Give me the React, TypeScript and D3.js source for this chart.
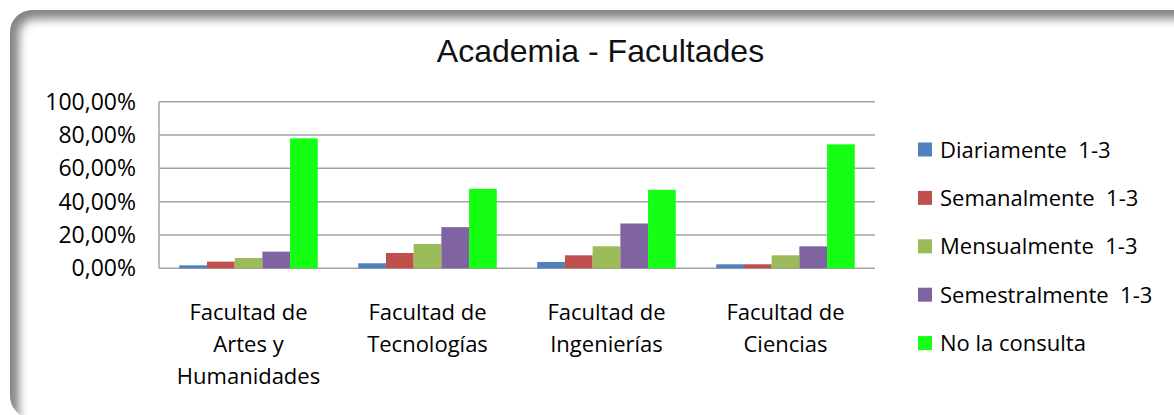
import * as d3 from 'd3';

const width = 1174;
const height = 415;

// values (fractions of 1)
const categories = ['Artes', 'Tecnologias', 'Ingenierias', 'Ciencias'];
const categoryLabels = [
  ['Facultad de', 'Artes y', 'Humanidades'],
  ['Facultad de', 'Tecnologías'],
  ['Facultad de', 'Ingenierías'],
  ['Facultad de', 'Ciencias'],
];
const seriesNames = [
  'Diariamente  1-3',
  'Semanalmente  1-3',
  'Mensualmente  1-3',
  'Semestralmente  1-3',
  'No la consulta',
];
const seriesColors = ['#4f81bd', '#c0504d', '#9bbb59', '#8064a2', '#14ff14'];
const diariamente = [0.018, 0.03, 0.038, 0.024];
const semanalmente = [0.04, 0.092, 0.078, 0.024];
const mensualmente = [0.062, 0.146, 0.132, 0.078];
const semestralmente = [0.1, 0.247, 0.269, 0.132];
const noConsulta = [0.78, 0.477, 0.471, 0.744];
const seriesValues = [diariamente, semanalmente, mensualmente, semestralmente, noConsulta];
const yTicks = [0, 0.2, 0.4, 0.6, 0.8, 1];
const yTickLabels = ['0,00%', '20,00%', '40,00%', '60,00%', '80,00%', '100,00%'];

const plot = { left: 159, right: 875, top: 101.7, bottom: 268.3 };
const font = "'Open Sans', 'Noto Sans', sans-serif";

export default function App() {
  const x = d3
    .scaleBand<string>()
    .domain(categories)
    .range([plot.left, plot.right])
    .paddingInner(0.226)
    .paddingOuter(0.113);
  const xs = d3
    .scaleBand<number>()
    .domain(d3.range(seriesNames.length))
    .range([0, x.bandwidth()]);
  const y = d3.scaleLinear().domain([0, 1]).range([plot.bottom, plot.top]);

  return (
    <svg
      width={width}
      height={height}
      style={{ position: 'absolute', left: 0, top: 0, background: '#fff' }}
    >
      <defs>
        <clipPath id="frameClip">
          <rect x={10} y={10} width={1200} height={408} rx={22} />
        </clipPath>
        <filter id="soft" x="-5%" y="-20%" width="110%" height="140%">
          <feGaussianBlur stdDeviation={5} />
        </filter>
      </defs>

      {/* rounded frame with soft grey rim, bottom edge runs off the page */}
      <g clipPath="url(#frameClip)">
        <rect x={10} y={10} width={1200} height={408} fill="#858585" />
        <rect
          x={19}
          y={19}
          width={1200}
          height={430}
          rx={16}
          fill="#fff"
          filter="url(#soft)"
        />
      </g>

      <text
        x={600.5}
        y={62}
        textAnchor="middle"
        fontFamily="'Liberation Sans', Arial, sans-serif"
        fontSize={32}
        fill="#111"
      >
        Academia - Facultades
      </text>

      {/* gridlines */}
      <g stroke="#a3a3a3" strokeWidth={1.5}>
        {yTicks.map((t) => (
          <line key={t} x1={plot.left} x2={plot.right} y1={y(t)} y2={y(t)} />
        ))}
        <line x1={plot.left} x2={plot.left} y1={plot.top} y2={plot.bottom} />
      </g>

      {/* y tick labels */}
      <g fontFamily={font} fontSize={23} fill="#000" textAnchor="end">
        {yTicks.map((t, i) => (
          <text key={t} x={136} y={y(t) + 8}>
            {yTickLabels[i]}
          </text>
        ))}
      </g>

      {/* bars */}
      <g>
        {seriesValues.map((vals, s) =>
          vals.map((v, c) => (
            <rect
              key={`${s}-${c}`}
              x={(x(categories[c]) ?? 0) + (xs(s) ?? 0)}
              y={y(v)}
              width={xs.bandwidth()}
              height={y(0) - y(v)}
              fill={seriesColors[s]}
            />
          ))
        )}
      </g>

      {/* category labels */}
      <g fontFamily={font} fontSize={22} fill="#000" textAnchor="middle">
        {categories.map((c, i) => (
          <text key={c} x={(x(c) ?? 0) + x.bandwidth() / 2} y={320}>
            {categoryLabels[i].map((line, j) => (
              <tspan key={j} x={(x(c) ?? 0) + x.bandwidth() / 2} y={320 + j * 32}>
                {line}
              </tspan>
            ))}
          </text>
        ))}
      </g>

      {/* legend */}
      <g fontFamily={font} fontSize={22} fill="#000">
        {seriesNames.map((name, i) => {
          const cy = 149.5 + i * 48.4;
          return (
            <g key={name}>
              <rect x={918} y={cy - 7} width={14} height={14} fill={seriesColors[i]} />
              <text x={940} y={cy + 8} style={{ whiteSpace: 'pre' }}>
                {name}
              </text>
            </g>
          );
        })}
      </g>
    </svg>
  );
}
